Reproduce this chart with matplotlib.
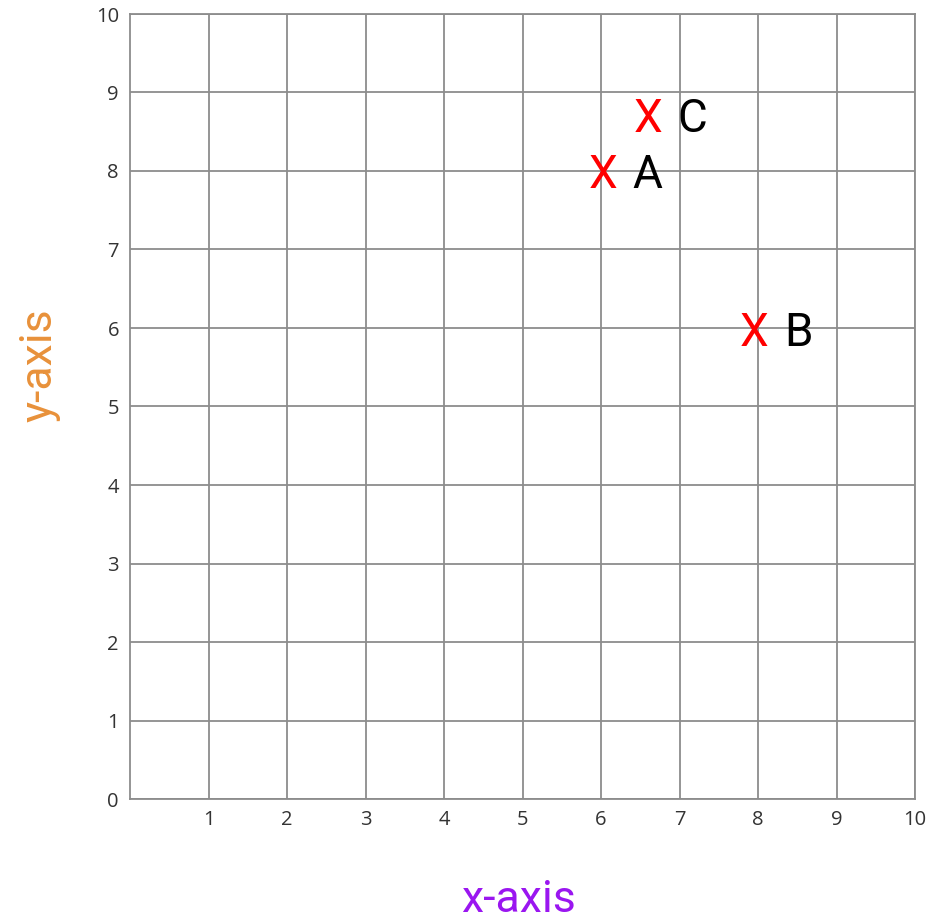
import matplotlib
matplotlib.use("Agg")
import matplotlib.pyplot as plt

# points
names = ["A", "B", "C"]
xs = [6.03, 7.95, 6.6]
ys = [8, 6, 8.72]

xticks = [1, 2, 3, 4, 5, 6, 7, 8, 9, 10]
yticks = [0, 1, 2, 3, 4, 5, 6, 7, 8, 9, 10]

fig = plt.figure(figsize=(9.43, 9.21), dpi=100)
ax = fig.add_axes([130 / 943, 1 - 799 / 921, 785 / 943, 785 / 921])

ax.set_xlim(0, 10)
ax.set_ylim(0, 10)
ax.set_xticks(xticks)
ax.set_yticks(yticks)
ax.grid(True, color="#8c8c8c", linewidth=1.3)
ax.set_axisbelow(True)
for s in ax.spines.values():
    s.set_color("#8c8c8c")
    s.set_linewidth(1.3)
ax.tick_params(length=0, labelsize=14.5, labelcolor="#333333", pad=8)
for lab in ax.get_xticklabels() + ax.get_yticklabels():
    lab.set_family("Open Sans")

for n, x, y in zip(names, xs, ys):
    ax.text(x, y, "X", color="red", fontsize=33, family="Roboto",
            ha="center", va="center_baseline")
    ax.annotate(n, (x, y), xytext=(44, 0), textcoords="offset pixels",
                fontsize=33, family="Roboto", color="black",
                ha="center", va="center_baseline")

fig.text(519 / 943, 1 - 900 / 921, "x-axis", color="#9a16f0", fontsize=32,
         family="Roboto", ha="center", va="center")
fig.text(40 / 943, 1 - 365 / 921, "y-axis", color="#e8913a", fontsize=32,
         family="Roboto", ha="center", va="center", rotation=90)

fig.savefig("out.png", dpi=100)
